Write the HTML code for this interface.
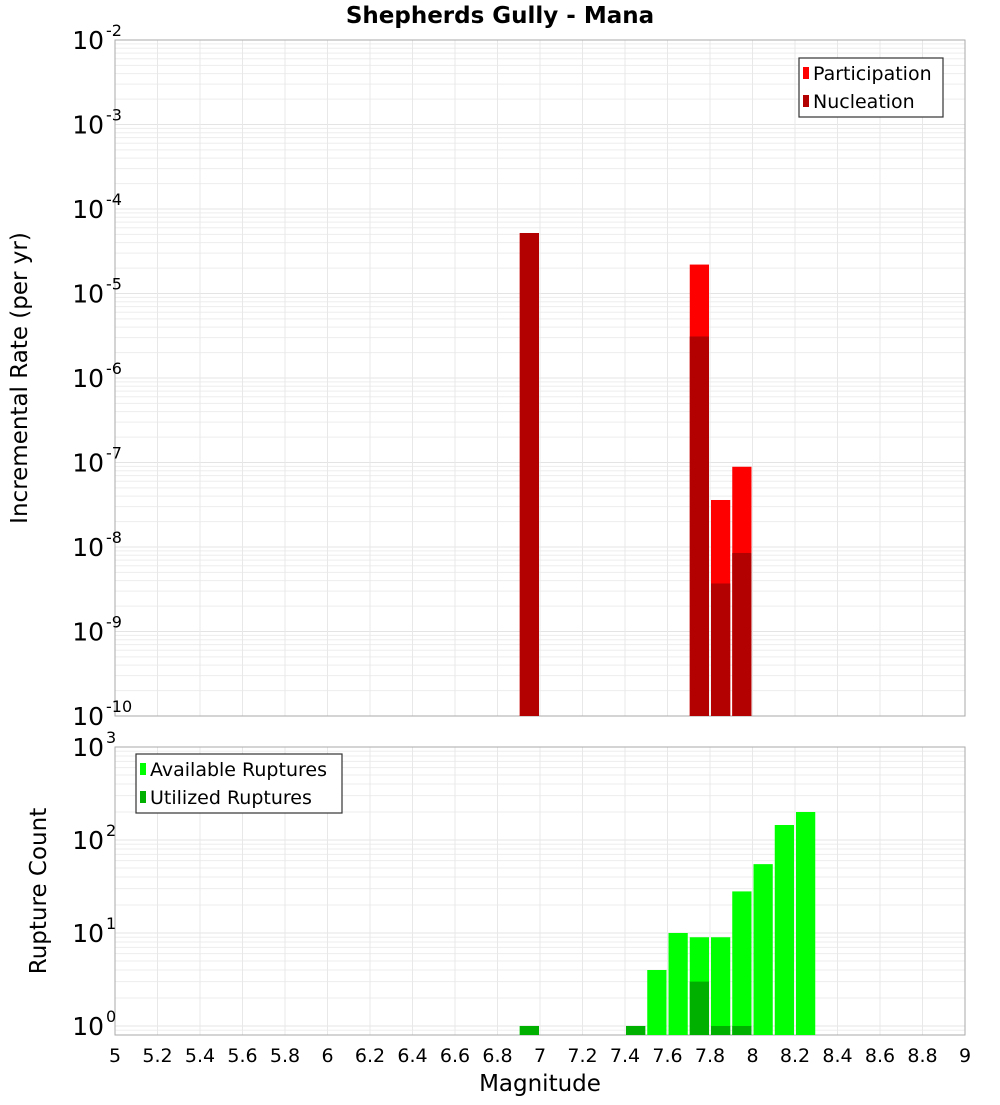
<!DOCTYPE html>
<html><head><meta charset="utf-8"><style>
body{margin:0;background:#fff;font-family:"Liberation Sans","DejaVu Sans",sans-serif}
svg text{font-family:"DejaVu Sans","Liberation Sans",sans-serif}
</style></head><body>
<svg id="c" width="1000" height="1100" xmlns="http://www.w3.org/2000/svg"></svg>
<script>
const bins = [6.9, 7.7, 7.8, 7.9];
const participation = [5.2e-5, 2.2e-5, 3.6e-8, 8.9e-8];
const nucleation = [5.2e-5, 3.1e-6, 3.7e-9, 8.5e-9];
const countBins = [6.9, 7.4, 7.5, 7.6, 7.7, 7.8, 7.9, 8.0, 8.1, 8.2];
const available = [1, 1, 4, 10, 9, 9, 28, 55, 145, 200];
const utilized = [1, 1, 0, 0, 3, 1, 1, 0, 0, 0];
const xTicks = [5,5.2,5.4,5.6,5.8,6,6.2,6.4,6.6,6.8,7,7.2,7.4,7.6,7.8,8,8.2,8.4,8.6,8.8,9];
const topExps = [-10,-9,-8,-7,-6,-5,-4,-3,-2];
const botExps = [0,1,2,3];

const NS="http://www.w3.org/2000/svg", svg=document.getElementById('c');
function el(t,a,p){const e=document.createElementNS(NS,t);for(const k in a)e.setAttribute(k,a[k]);(p||svg).appendChild(e);return e;}
const L=115,R=965;
const X=m=>L+(m-5)/4*(R-L);
const T={t:40,b:716,lo:-10,hi:-2};
const B={t:747,b:1035,lo:Math.log10(0.8),hi:3};
const Y=(p,v)=>p.b-(Math.log10(v)-p.lo)/(p.hi-p.lo)*(p.b-p.t);

function grid(p,name){
  const g=el('g',{});  
  for(let e=Math.floor(p.lo);e<p.hi;e++)for(let k=1;k<10;k++){const v=k*Math.pow(10,e);const lv=Math.log10(v);if(lv<p.lo||lv>p.hi)continue;const y=Y(p,v);
    el('line',{x1:L,x2:R,y1:y,y2:y,stroke:k==1?'#e4e4e4':'#ededed','stroke-width':1},g);}
  xTicks.forEach(t=>{const x=X(t);el('line',{x1:x,x2:x,y1:p.t,y2:p.b,stroke:'#e8e8e8','stroke-width':1},g);});
  const f=el('rect',{x:L,y:p.t,width:R-L,height:p.b-p.t,fill:'none',stroke:'#aaa','stroke-width':1});
   
}
grid(T,'rate-plot'); grid(B,'count-plot');

function bar(m,v,p,color,name){
  const x=X(m)+1, w=X(m+0.1)-X(m)-2, y=Y(p,v);
  const r=el('rect',{x:x,y:y,width:w,height:p.b-y,fill:color});
   
}
bins.forEach((m,i)=>{bar(m,participation[i],T,'#ff0000','participation-bar');});
bins.forEach((m,i)=>{bar(m,nucleation[i],T,'#b30000','nucleation-bar');});
countBins.forEach((m,i)=>{if(available[i]>0)bar(m,available[i],B,'#00ff00','available-bar');});
countBins.forEach((m,i)=>{if(utilized[i]>0)bar(m,utilized[i],B,'#00b000','utilized-bar');});

function ylabels(p,exps,name){
  exps.forEach(e=>{const y=Y(p,Math.pow(10,e));
    const t=el('text',{x:104,y:y+9,'font-size':25,'text-anchor':'end',fill:'#000'});
     
    t.textContent='10';
    const s=el('text',{x:106,y:y-4,'font-size':16,fill:'#000'}); s.textContent=String(e);
     
  });
}
ylabels(T,topExps,'rate-y'); ylabels(B,botExps,'count-y');
xTicks.forEach(t=>{const tx=el('text',{x:X(t),y:1062,'font-size':19,'text-anchor':'middle',fill:'#000'});
  tx.textContent=String(t);  });

function txt(s,a,name){const t=el('text',a);t.textContent=s;return t;}
txt('Shepherds Gully - Mana',{x:500,y:23,'font-size':23,'font-weight':'bold','text-anchor':'middle'},'chart-title');
txt('Magnitude',{x:540,y:1091,'font-size':23,'text-anchor':'middle'},'x-axis-title');
txt('Incremental Rate (per yr)',{x:0,y:0,'font-size':23,'text-anchor':'middle',transform:'translate(27,378) rotate(-90)'},'rate-y-axis-title');
txt('Rupture Count',{x:0,y:0,'font-size':23,'text-anchor':'middle',transform:'translate(46,891) rotate(-90)'},'count-y-axis-title');

function legend(x,y,w,items,name){
  const g=el('g',{});  
  el('rect',{x:x,y:y,width:w,height:59,fill:'#fff',stroke:'#333','stroke-width':1.2},g);
  items.forEach((it,i)=>{const yy=y+15+i*28;
    el('rect',{x:x+4,y:yy-6,width:6,height:12,fill:it[1]},g);
    const t=el('text',{x:x+14,y:yy+7,'font-size':19,fill:'#000'},g); t.textContent=it[0];
     });
}
legend(799,58,144,[['Participation','#ff0000'],['Nucleation','#b30000']],'rate-legend');
legend(136,754,206,[['Available Ruptures','#00ff00'],['Utilized Ruptures','#00b000']],'count-legend');
</script>
</body></html>
